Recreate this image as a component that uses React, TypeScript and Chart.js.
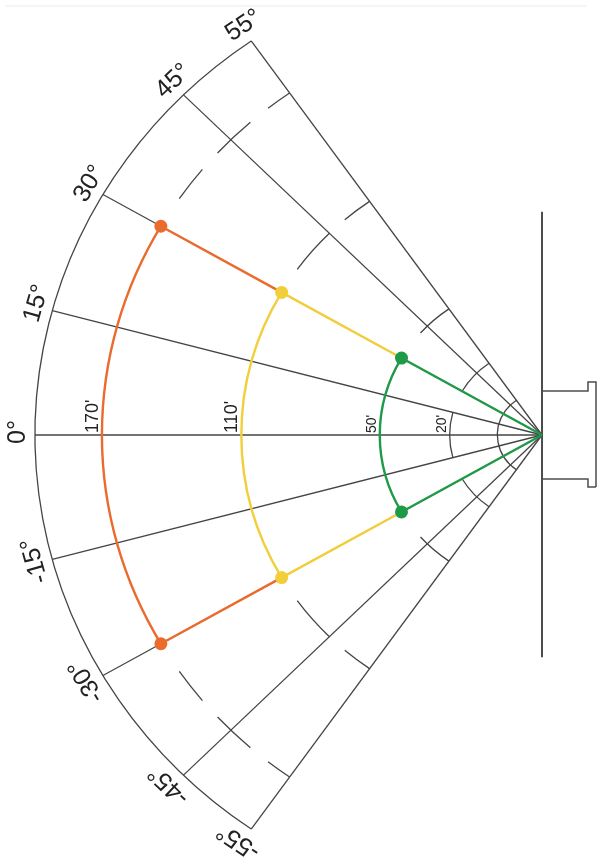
import React, { useEffect, useRef } from 'react';
import { Chart, registerables } from 'chart.js';

Chart.register(...registerables);

// ---------- data ----------
const RAY_ANGLES = [55, 45, 30, 15, 0, -15, -30, -45, -55];
const RAY_LABELS = ['55°', '45°', '30°', '15°', '0°', '-15°', '-30°', '-45°', '-55°'];
const OUTER_RADIUS = 1;

const SERIES_LABELS = ["170'", "110'", "50'"];
const SERIES_RADII = [0.868, 0.593, 0.32];
const SERIES_INNER_RADII = [0.593, 0.32, 0];
const SERIES_HALF_ANGLE = 30;

const REF_LABEL = "20'";
const REF_RADIUS = 0.182;
const HUB_RADIUS = 0.088;

// guide arcs: [radius, fromDeg, toDeg]
const GUIDE_ARCS: [number, number, number][] = [
  [1, -55, 55],
  [0.868, 34.5, 39.5], [0.868, 42.5, 48.5], [0.868, 51.5, 55],
  [0.868, -39.5, -34.5], [0.868, -48.5, -42.5], [0.868, -55, -51.5],
  [0.593, 35.5, 45], [0.593, 49, 55],
  [0.593, -45, -35.5], [0.593, -55, -49],
  [0.32, 41.5, 55], [0.32, -55, -41.5],
  [0.182, -15, 15], [0.182, 30, 55], [0.182, -55, -30],
  [HUB_RADIUS, -55, 55],
];

// wall outline in chart units (x right, y up, centre of the fan at 0,0)
const WALL_X = [0, 0];
const WALL_Y = [0.464, -0.462];
const BOX_TOP_X = [0, 0.0907, 0.0907, 0.1065, 0.1065];
const BOX_TOP_Y = [0.0915, 0.0915, 0.110, 0.110, -0.108];
const BOX_BOT_X = [0, 0.0907, 0.0907, 0.1065];
const BOX_BOT_Y = [-0.0915, -0.0915, -0.108, -0.108];
const FRAME_X = [-1.0592, 0.0888];
const FRAME_Y = [0.8919, 0.8919];

// ---------- styles ----------
const SERIES_COLORS = ['#EA6B2D', '#F2CF3A', '#1F9A48'];
const GRID_COLOR = '#454545';
const TEXT_COLOR = '#222222';
const FONT = '"Liberation Sans", Arial, sans-serif';

const rad = (d: number) => (d * Math.PI) / 180;
const polar = (r: number, deg: number) => ({ x: -r * Math.cos(rad(deg)), y: r * Math.sin(rad(deg)) });
const zip = (xs: number[], ys: number[]) => xs.map((x, i) => ({ x, y: ys[i] }));

const decorPlugin = {
  id: 'fanDecor',
  beforeDatasetsDraw(chart: any) {
    chart.$seriesArcsDrawn = false;
    const { ctx } = chart;
    const xs = chart.scales.x, ys = chart.scales.y;
    const cx = xs.getPixelForValue(0), cy = ys.getPixelForValue(0);
    const sx = xs.getPixelForValue(1) - cx, sy = cy - ys.getPixelForValue(1);
    ctx.save();
    ctx.strokeStyle = GRID_COLOR;
    ctx.lineWidth = 1.3;
    GUIDE_ARCS.forEach(([r, a, b]) => {
      ctx.beginPath();
      ctx.ellipse(cx, cy, r * sx, r * sy, 0, Math.PI - rad(b), Math.PI - rad(a));
      ctx.stroke();
    });
    ctx.restore();
  },
  beforeDatasetDraw(chart: any, args: any) {
    const ds = chart.data.datasets[args.index];
    if (!ds.isSeries || chart.$seriesArcsDrawn) return;
    chart.$seriesArcsDrawn = true;
    const { ctx } = chart;
    const xs = chart.scales.x, ys = chart.scales.y;
    const cx = xs.getPixelForValue(0), cy = ys.getPixelForValue(0);
    const sx = xs.getPixelForValue(1) - cx, sy = cy - ys.getPixelForValue(1);
    ctx.save();
    ctx.lineWidth = 2.4;
    SERIES_RADII.forEach((r, i) => {
      ctx.strokeStyle = SERIES_COLORS[i];
      ctx.beginPath();
      ctx.ellipse(cx, cy, r * sx, r * sy, 0, Math.PI - rad(SERIES_HALF_ANGLE), Math.PI + rad(SERIES_HALF_ANGLE));
      ctx.stroke();
    });
    ctx.restore();
  },
  afterDatasetsDraw(chart: any) {
    const { ctx } = chart;
    const xs = chart.scales.x, ys = chart.scales.y;
    const cx = xs.getPixelForValue(0), cy = ys.getPixelForValue(0);
    const sx = xs.getPixelForValue(1) - cx, sy = cy - ys.getPixelForValue(1);
    ctx.save();
    ctx.fillStyle = TEXT_COLOR;
    // degree labels
    ctx.font = `25px ${FONT}`;
    ctx.textAlign = 'center';
    ctx.textBaseline = 'middle';
    RAY_ANGLES.forEach((a, i) => {
      const p = polar(OUTER_RADIUS, a);
      const px = xs.getPixelForValue(p.x), py = ys.getPixelForValue(p.y);
      let dx = px - cx, dy = py - cy;
      const len = Math.hypot(dx, dy);
      dx /= len; dy /= len;
      const tx = Math.sin(rad(a)) * sx, ty = -Math.cos(rad(a)) * sy;
      const tl = Math.hypot(tx, ty);
      const rot = Math.atan2(ty, tx);
      const gap = 17, shift = 3;
      ctx.save();
      ctx.translate(px + dx * gap + (tx / tl) * shift, py + dy * gap + (ty / tl) * shift);
      ctx.rotate(rot);
      ctx.fillText(RAY_LABELS[i], 0, 0);
      ctx.restore();
    });
    // distance labels along 0°
    const distLabels = [...SERIES_LABELS, REF_LABEL];
    const distRadii = [...SERIES_RADII, REF_RADIUS];
    const sizes = [18, 18, 14, 14];
    ctx.textAlign = 'left';
    ctx.textBaseline = 'alphabetic';
    distLabels.forEach((t, i) => {
      ctx.font = `${sizes[i]}px ${FONT}`;
      const px = xs.getPixelForValue(-distRadii[i]) - 4;
      ctx.save();
      ctx.translate(px, cy - 2);
      ctx.rotate(-Math.PI / 2);
      ctx.fillText(t, 0, 0);
      ctx.restore();
    });
    ctx.restore();
  },
};

export default function App() {
  const ref = useRef<HTMLCanvasElement>(null);
  useEffect(() => {
    if (!ref.current) return;
    const datasets: any[] = [];
    // frame line
    datasets.push({ data: zip(FRAME_X, FRAME_Y), showLine: true, borderColor: '#ececec', borderWidth: 1, pointRadius: 0, order: 9 });
    // rays
    RAY_ANGLES.forEach((a) => {
      datasets.push({ data: [{ x: 0, y: 0 }, polar(OUTER_RADIUS, a)], showLine: true, borderColor: GRID_COLOR, borderWidth: 1.3, pointRadius: 0, order: 5 });
    });
    // wall
    datasets.push({ data: zip(WALL_X, WALL_Y), showLine: true, borderColor: '#4d4d4d', borderWidth: 2, pointRadius: 0, order: 5 });
    datasets.push({ data: zip(BOX_TOP_X, BOX_TOP_Y), showLine: true, borderColor: '#4d4d4d', borderWidth: 1.5, pointRadius: 0, order: 5 });
    datasets.push({ data: zip(BOX_BOT_X, BOX_BOT_Y), showLine: true, borderColor: '#4d4d4d', borderWidth: 1.5, pointRadius: 0, order: 5 });
    // coloured radial segments
    SERIES_RADII.forEach((r, i) => {
      [SERIES_HALF_ANGLE, -SERIES_HALF_ANGLE].forEach((a) => {
        datasets.push({
          label: SERIES_LABELS[i],
          isSeries: true,
          data: [polar(SERIES_INNER_RADII[i], a), polar(r, a)],
          showLine: true, borderColor: SERIES_COLORS[i], borderWidth: 2.4, pointRadius: 0, order: 2,
        });
      });
    });
    // dots
    SERIES_RADII.forEach((r, i) => {
      datasets.push({
        label: SERIES_LABELS[i] + ' pts',
        data: [polar(r, SERIES_HALF_ANGLE), polar(r, -SERIES_HALF_ANGLE)],
        showLine: false, pointRadius: 6.5, pointBackgroundColor: SERIES_COLORS[i], pointBorderColor: SERIES_COLORS[i], pointBorderWidth: 0, order: 0,
      });
    });
    const chart = new Chart(ref.current, {
      type: 'scatter',
      data: { datasets },
      options: {
        animation: false,
        responsive: false,
        devicePixelRatio: 1,
        layout: { padding: 0, autoPadding: false },
        plugins: { legend: { display: false }, tooltip: { enabled: false }, title: { display: false } },
        scales: {
          x: { type: 'linear', min: -542 / 507, max: 56 / 507, display: false },
          y: { type: 'linear', min: -428 / 481, max: 435 / 481, display: false },
        },
        elements: { line: { tension: 0 } },
      },
      plugins: [decorPlugin],
    } as any);
    return () => chart.destroy();
  }, []);
  return (
    <div style={{ position: 'absolute', left: 0, top: 0, width: 598, height: 863, background: '#fff' }}>
      <canvas ref={ref} width={598} height={863} style={{ width: 598, height: 863, display: 'block' }} />
    </div>
  );
}
